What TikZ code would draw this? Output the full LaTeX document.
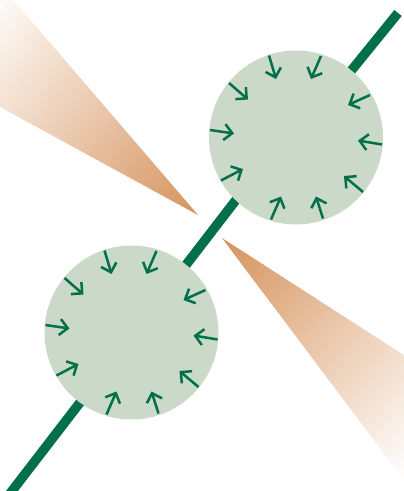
\documentclass[tikz,border=0pt]{standalone}
\usetikzlibrary{arrows.meta,calc}
\definecolor{axisGreen}{HTML}{00704A}
\definecolor{cellFill}{HTML}{CAD9C8}
\definecolor{wedgeOrange}{HTML}{D6935D}
\begin{document}
\begin{tikzpicture}[x=1pt,y=-1pt,
  cell/.style={circle,fill=cellFill,minimum size=174pt,inner sep=0pt},
  axisline/.style={draw=axisGreen,line width=9.5pt,line cap=butt},
  cellarrow/.style={draw=axisGreen,line width=2.5pt,-{Straight Barb[length=8pt,width=16pt]}}]
\useasboundingbox (0,0) rectangle (404,491);
\clip (0,0) rectangle (404,491);
% upper wedge
\coordinate (tipA) at (198,215);
\begin{scope}
  \clip (tipA) -- (-4,-20) -- (-20,96) -- cycle;
  \foreach \i in {0,...,49} {
    \pgfmathsetmacro\da{\i*6}
    \pgfmathsetmacro\db{\i*6+7}
    \pgfmathsetmacro\pc{max(0,100*(1-(\i*6+3)/300))}
    \fill[wedgeOrange!\pc!white] ($(tipA)+(218.9:\da)+(308.9:250)$) -- ($(tipA)+(218.9:\db)+(308.9:250)$) -- ($(tipA)+(218.9:\db)+(128.9:250)$) -- ($(tipA)+(218.9:\da)+(128.9:250)$) -- cycle;
  }
\end{scope}
% lower wedge
\coordinate (tipB) at (222,238);
\begin{scope}
  \clip (tipB) -- (430,372) -- (434,520) -- cycle;
  \foreach \i in {0,...,49} {
    \pgfmathsetmacro\da{\i*6}
    \pgfmathsetmacro\db{\i*6+7}
    \pgfmathsetmacro\pc{max(0,100*(1-(\i*6+3)/300))}
    \fill[wedgeOrange!\pc!white] ($(tipB)+(42.9:\da)+(132.9:250)$) -- ($(tipB)+(42.9:\db)+(132.9:250)$) -- ($(tipB)+(42.9:\db)+(-47.1:250)$) -- ($(tipB)+(42.9:\da)+(-47.1:250)$) -- cycle;
  }
\end{scope}
% axis line
\coordinate (lowEnd) at (5,500);
\coordinate (lowIn) at (286,135);
\coordinate (topEnd) at (398,13);
\coordinate (topIn) at (299,135);
\draw[axisline] (lowEnd) -- (lowIn);
\draw[axisline] (topEnd) -- (topIn);
% cells
\node[cell] (cA) at (296,137.5) {};
\node[cell] (cB) at (131.5,332.5) {};
\foreach \c in {cA,cB} {
  \foreach \tx/\ty/\hx/\hy in {-27/-82/-20/-58.5, 25/-81.5/15/-58.5, -67/-54.5/-48/-38, 74/-42.5/52/-32.5, -86/-7.5/-62/-4, 86/7/62/3, -75/43/-53/31.5, 67/54.5/48/38.5, -25/82/-15/59, 27/81/20/59} {
    \draw[cellarrow] ($(\c)+(\tx,\ty)$) -- ($(\c)+(\hx,\hy)$);
  }
}
\end{tikzpicture}
\end{document}
